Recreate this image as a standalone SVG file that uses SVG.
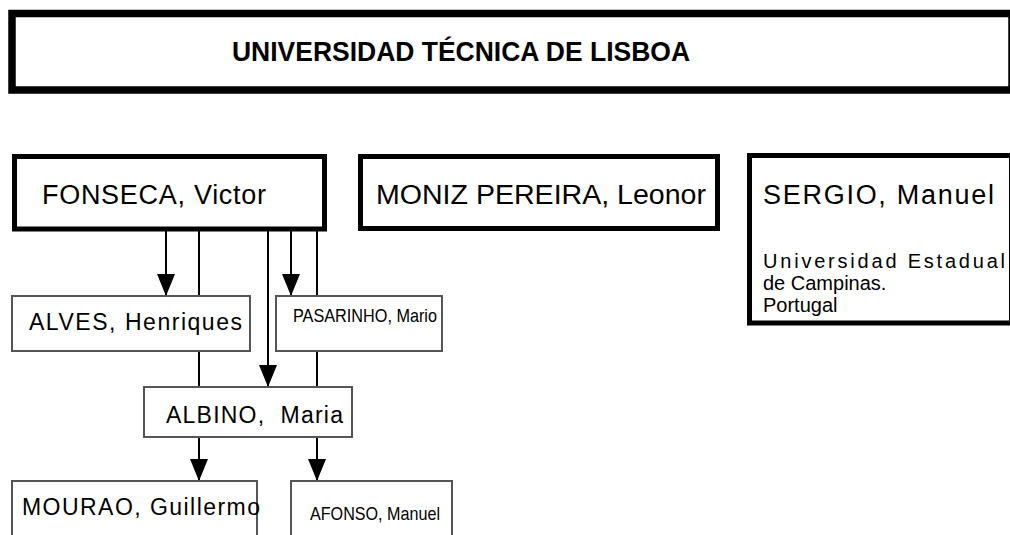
<svg xmlns="http://www.w3.org/2000/svg" width="1010" height="535" viewBox="0 0 1010 535">
<style>
text{font-family:"Liberation Sans",Arial,sans-serif;fill:#000}
.thick{fill:#fff;stroke:#000;stroke-width:5}
.thin{fill:#fff;stroke:#555;stroke-width:2}
.big{font-size:27px}
.mid{font-size:23px}
.small{font-size:19px}
.side{font-size:20px}
.c{stroke:#000;stroke-width:2;fill:none}
</style>
<defs>
<marker id="arr" markerUnits="userSpaceOnUse" markerWidth="22" markerHeight="18" viewBox="0 0 22 18" refX="22" refY="9" orient="auto">
<path d="M0,0 L22,9 L0,18 Z" fill="#000"/>
</marker>
</defs>
<rect width="1010" height="535" fill="#fff"/>
<g id="title">
<rect x="12" y="13.5" width="1000" height="76.5" fill="#fff" stroke="#000" stroke-width="7.5"/>
<text x="232" y="61" font-size="28" font-weight="bold" textLength="458" lengthAdjust="spacingAndGlyphs">UNIVERSIDAD TÉCNICA DE LISBOA</text>
</g>
<g id="connectors">
<line class="c" x1="166" y1="231" x2="166" y2="296" marker-end="url(#arr)"/>
<line class="c" x1="199" y1="231" x2="199" y2="296"/>
<line class="c" x1="199" y1="351" x2="199" y2="387"/>
<line class="c" x1="268" y1="231" x2="268" y2="387" marker-end="url(#arr)"/>
<line class="c" x1="291" y1="231" x2="291" y2="296" marker-end="url(#arr)"/>
<line class="c" x1="317" y1="231" x2="317" y2="296"/>
<line class="c" x1="317" y1="351" x2="317" y2="387"/>
<line class="c" x1="199" y1="437" x2="199" y2="481" marker-end="url(#arr)"/>
<line class="c" x1="317" y1="437" x2="317" y2="481" marker-end="url(#arr)"/>
</g>
<g id="fonseca">
<rect class="thick" x="14.5" y="156.5" width="310" height="72.5"/>
<text class="big" x="42" y="204" textLength="224" lengthAdjust="spacing">FONSECA, Victor</text>
</g>
<g id="moniz">
<rect class="thick" x="360.5" y="156.5" width="357" height="72"/>
<text class="big" x="376" y="204" textLength="330" lengthAdjust="spacingAndGlyphs">MONIZ PEREIRA, Leonor</text>
</g>
<g id="sergio">
<rect class="thick" x="749.5" y="155.5" width="262" height="167.5"/>
<text class="big" x="763" y="204" textLength="231" lengthAdjust="spacing">SERGIO, Manuel</text>
<text class="side" x="763" y="268" textLength="242" lengthAdjust="spacing">Universidad Estadual</text>
<text class="side" x="763" y="290">de Campinas.</text>
<text class="side" x="763" y="312">Portugal</text>
</g>
<g id="alves">
<rect class="thin" x="12" y="296" width="238" height="55"/>
<text class="mid" x="29" y="330" textLength="213" lengthAdjust="spacing">ALVES, Henriques</text>
</g>
<g id="pasarinho">
<rect class="thin" x="276" y="296" width="166" height="55"/>
<text class="small" x="293" y="322" textLength="144" lengthAdjust="spacingAndGlyphs">PASARINHO, Mario</text>
</g>
<g id="albino">
<rect class="thin" x="144" y="387" width="208" height="50"/>
<text class="mid" x="166" y="423" textLength="177" lengthAdjust="spacing" xml:space="preserve">ALBINO,  Maria</text>
</g>
<g id="mourao">
<rect class="thin" x="12" y="481" width="245" height="60"/>
<text class="mid" x="22" y="515" textLength="238" lengthAdjust="spacing">MOURAO, Guillermo</text>
</g>
<g id="afonso">
<rect class="thin" x="291" y="481" width="161" height="60"/>
<text class="small" x="310" y="520" textLength="130" lengthAdjust="spacingAndGlyphs">AFONSO, Manuel</text>
</g>
</svg>
